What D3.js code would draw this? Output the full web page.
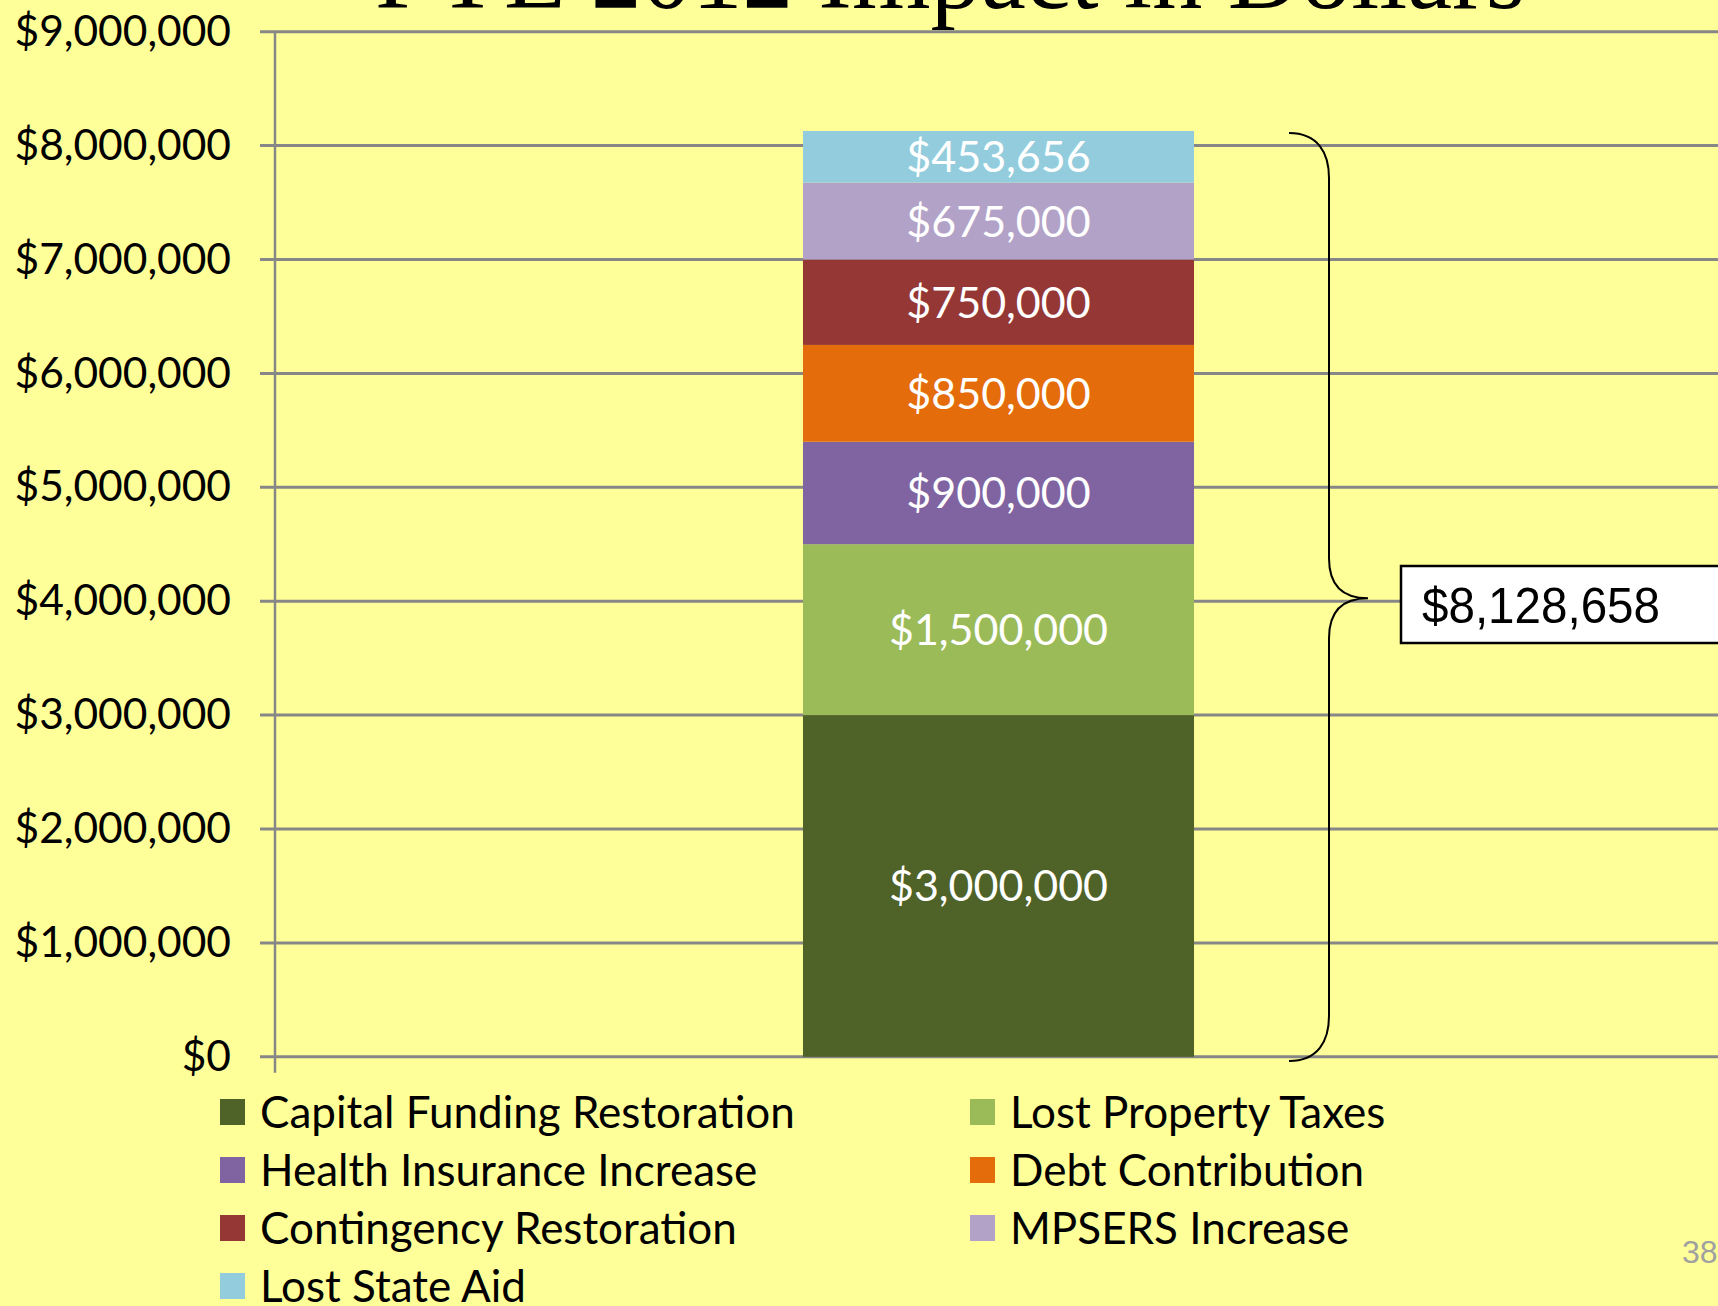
<!DOCTYPE html>
<html>
<head>
<meta charset="utf-8">
<script src="https://cdn.jsdelivr.net/npm/d3@7"></script>
<style>
  body { margin: 0; background: #ffff99; overflow: hidden; }
  svg { display: block; }
</style>
</head>
<body>
<div id="chart"></div>
<script>
// chart data
var categories = ["FYE 2012"];
var seriesNames = ["Capital Funding Restoration", "Lost Property Taxes", "Health Insurance Increase",
  "Debt Contribution", "Contingency Restoration", "MPSERS Increase", "Lost State Aid"];
var seriesValues = [3000000, 1500000, 900000, 850000, 750000, 675000, 453656];
var seriesColors = ["#4f6228", "#9bbb59", "#8064a2", "#e46c0a", "#953735", "#b3a2c7", "#93cddd"];
var yTicks = [0, 1000000, 2000000, 3000000, 4000000, 5000000, 6000000, 7000000, 8000000, 9000000];
var totalLabel = "$8,128,658";
var titleText = "FYE 2012 Impact in Dollars";
var pageNumber = "38";

var W = 1718, H = 1306;
// plot area (note: "top" is taken by window.top)
var plotLeft = 275, plotRight = 1722, plotTop = 31.7, plotBottom = 1056.8;

var svg = d3.select("#chart").append("svg").attr("width", W).attr("height", H);
svg.append("rect").attr("width", W).attr("height", H).attr("fill", "#ffff99");

// scales
var y = d3.scaleLinear().domain([0, 9000000]).range([plotBottom, plotTop]);
var x = d3.scaleBand().domain(categories).range([plotLeft, plotRight]).padding(0.5745).align(0.5);
var fmt = d3.format("$,.0f");

// title (cut by the top edge)
svg.append("text")
  .attr("x", 950).attr("y", 8)
  .attr("text-anchor", "middle")
  .style("font-family", "'Liberation Serif', 'DejaVu Serif', serif")
  .style("font-size", "101px")
  .attr("fill", "#000")
  .text(titleText);

// gridlines
svg.append("g").selectAll("line").data(yTicks).enter().append("line")
  .attr("x1", plotLeft - 15).attr("x2", W)
  .attr("y1", function(d) { return y(d); }).attr("y2", function(d) { return y(d); })
  .attr("stroke", "#878787").attr("stroke-width", 3);

// y axis labels
var yAxis = d3.axisLeft(y).tickValues(yTicks).tickFormat(fmt).tickSize(0).tickPadding(44);
var ga = svg.append("g").attr("transform", "translate(" + plotLeft + ",0)").call(yAxis);
ga.select(".domain").remove();
ga.selectAll("text")
  .style("font-family", "Lato, 'Open Sans', sans-serif")
  .style("font-size", "42.5px")
  .attr("fill", "#000");

// vertical axis line
svg.append("line")
  .attr("x1", plotLeft).attr("x2", plotLeft)
  .attr("y1", plotTop).attr("y2", plotBottom + 16)
  .attr("stroke", "#878787").attr("stroke-width", 2.5);

// stacked bar
var row = {cat: categories[0]};
seriesNames.forEach(function(n, i) { row[n] = seriesValues[i]; });
var stack = d3.stack().keys(seriesNames)([row]);

var layers = svg.append("g").selectAll("g").data(stack).enter().append("g")
  .attr("fill", function(d, i) { return seriesColors[i]; });

layers.selectAll("rect").data(function(d) { return d; }).enter().append("rect")
  .attr("x", function(d) { return x(d.data.cat); })
  .attr("width", x.bandwidth())
  .attr("y", function(d) { return y(d[1]); })
  .attr("height", function(d) { return y(d[0]) - y(d[1]); });

layers.selectAll("text").data(function(d) { return d; }).enter().append("text")
  .attr("x", function(d) { return x(d.data.cat) + x.bandwidth() / 2; })
  .attr("y", function(d) { return (y(d[0]) + y(d[1])) / 2; })
  .attr("dy", "0.36em")
  .attr("text-anchor", "middle")
  .style("font-family", "Lato, 'Open Sans', sans-serif")
  .style("font-size", "43px")
  .attr("fill", "#fff")
  .text(function(d) { return fmt(d[1] - d[0]); });

// curly brace to the total
var bx = 1329, tipX = 1368;
var yTop = 133, yBot = 1061, yMid = y(4000000) - 3;
var brace = "M1289," + yTop +
  " C1318," + yTop + " " + bx + "," + (yTop + 20) + " " + bx + "," + (yTop + 45) +
  " L" + bx + "," + (yMid - 40) +
  " C" + bx + "," + (yMid - 15) + " " + (bx + 12) + "," + yMid + " " + tipX + "," + yMid +
  " C" + (bx + 12) + "," + yMid + " " + bx + "," + (yMid + 15) + " " + bx + "," + (yMid + 40) +
  " L" + bx + "," + (yBot - 45) +
  " C" + bx + "," + (yBot - 20) + " 1318," + yBot + " 1289," + yBot;
svg.append("path").attr("d", brace)
  .attr("fill", "none").attr("stroke", "#000").attr("stroke-width", 2);

// total box
svg.append("rect")
  .attr("x", 1401).attr("y", 566).attr("width", 340).attr("height", 77)
  .attr("fill", "#fff").attr("stroke", "#000").attr("stroke-width", 2.5);
svg.append("text")
  .attr("x", 1422).attr("y", 623)
  .style("font-family", "'Liberation Sans Narrow', 'Liberation Sans', Arial, sans-serif")
  .style("font-size", "50px")
  .attr("textLength", 238).attr("lengthAdjust", "spacingAndGlyphs")
  .attr("fill", "#000")
  .text(totalLabel);

// legend, two columns
var legend = svg.append("g").selectAll("g").data(seriesNames).enter().append("g")
  .attr("transform", function(d, i) {
    return "translate(" + (i % 2 === 0 ? 220 : 970) + "," + (1112 + Math.floor(i / 2) * 58) + ")";
  });
legend.append("rect")
  .attr("x", 0).attr("y", -13).attr("width", 25).attr("height", 26)
  .attr("fill", function(d, i) { return seriesColors[i]; });
legend.append("text")
  .attr("x", 40).attr("dy", "0.36em")
  .style("font-family", "Lato, 'Open Sans', sans-serif")
  .style("font-size", "44px")
  .attr("fill", "#000")
  .text(function(d) { return d; });

// page number
svg.append("text")
  .attr("x", 1682).attr("y", 1263)
  .style("font-family", "'Liberation Sans', Arial, sans-serif")
  .style("font-size", "32px")
  .attr("fill", "#a0a0a0")
  .text(pageNumber);
</script>
</body>
</html>
